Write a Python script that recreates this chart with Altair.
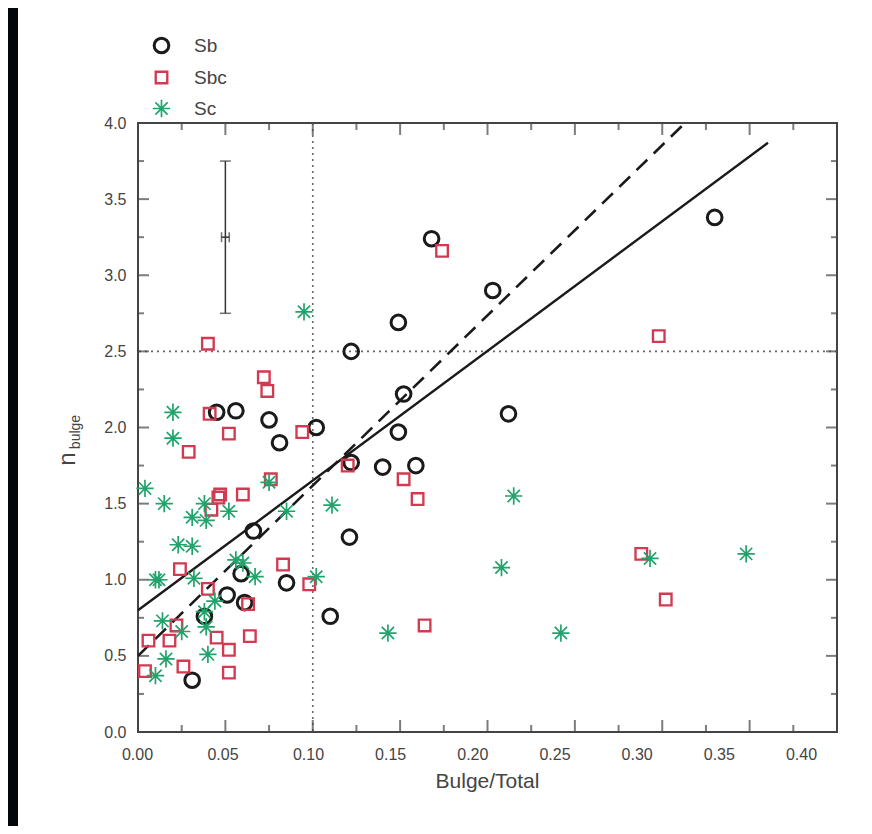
import altair as alt
import pandas as pd

# ---------------- data ----------------
sb_x = [0.330, 0.168, 0.203, 0.149, 0.122, 0.152, 0.212, 0.045, 0.056, 0.075,
        0.102, 0.081, 0.149, 0.122, 0.140, 0.159, 0.121, 0.066, 0.059, 0.085,
        0.051, 0.061, 0.110, 0.038, 0.031]
sb_y = [3.38, 3.24, 2.90, 2.69, 2.50, 2.22, 2.09, 2.10, 2.11, 2.05,
        2.00, 1.90, 1.97, 1.77, 1.74, 1.75, 1.28, 1.32, 1.04, 0.98,
        0.90, 0.85, 0.76, 0.76, 0.34]

sbc_x = [0.174, 0.298, 0.040, 0.072, 0.074, 0.041, 0.094, 0.052, 0.029, 0.120,
         0.076, 0.152, 0.046, 0.047, 0.060, 0.042, 0.160, 0.288, 0.083, 0.024,
         0.098, 0.040, 0.063, 0.302, 0.164, 0.022, 0.045, 0.064, 0.006, 0.018,
         0.052, 0.026, 0.004, 0.052]
sbc_y = [3.16, 2.60, 2.55, 2.33, 2.24, 2.09, 1.97, 1.96, 1.84, 1.75,
         1.66, 1.66, 1.54, 1.56, 1.56, 1.46, 1.53, 1.17, 1.10, 1.07,
         0.97, 0.94, 0.84, 0.87, 0.70, 0.70, 0.62, 0.63, 0.60, 0.60,
         0.54, 0.43, 0.40, 0.39]

sc_x = [0.095, 0.020, 0.020, 0.004, 0.075, 0.015, 0.038, 0.111, 0.215, 0.052,
        0.085, 0.031, 0.039, 0.023, 0.031, 0.056, 0.060, 0.010, 0.012, 0.032,
        0.067, 0.102, 0.208, 0.293, 0.348, 0.044, 0.014, 0.025, 0.039, 0.143,
        0.242, 0.016, 0.040, 0.010, 0.038]
sc_y = [2.76, 2.10, 1.93, 1.60, 1.64, 1.50, 1.50, 1.49, 1.55, 1.45,
        1.45, 1.41, 1.39, 1.23, 1.22, 1.13, 1.11, 1.00, 1.00, 1.01,
        1.02, 1.02, 1.08, 1.14, 1.17, 0.86, 0.73, 0.66, 0.69, 0.65,
        0.65, 0.48, 0.51, 0.37, 0.79]

types = ["Sb", "Sbc", "Sc"]

# fitted relations (end points)
solid_x = [0.0, 0.3605]
solid_y = [0.80, 3.87]
dash_x = [0.0, 0.313]
dash_y = [0.50, 4.00]

# representative error bar
err_x = [0.05]
err_y = [3.25]
err_ylo = [2.75]
err_yhi = [3.75]
err_xlo = [0.0478]
err_xhi = [0.0522]

# reference lines
vline_x = [0.10]
hline_y = [2.5]

x_major = [0.00, 0.05, 0.10, 0.15, 0.20, 0.25, 0.30, 0.35, 0.40]
x_minor = [0.025, 0.075, 0.125, 0.175, 0.225, 0.275, 0.325, 0.375]
y_major = [0.0, 0.5, 1.0, 1.5, 2.0, 2.5, 3.0, 3.5, 4.0]
y_minor = [0.25, 0.75, 1.25, 1.75, 2.25, 2.75, 3.25, 3.75]

# ---------------- build tables ----------------
pts = pd.concat([
    pd.DataFrame({"bt": sb_x, "n": sb_y, "type": "Sb"}),
    pd.DataFrame({"bt": sbc_x, "n": sbc_y, "type": "Sbc"}),
    pd.DataFrame({"bt": sc_x, "n": sc_y, "type": "Sc"}),
], ignore_index=True)

W, H = 699, 609
XD = [0, 0.40]
YD = [0, 4.0]
AX = "#444444"
FONT = "Liberation Sans"

xs = alt.Scale(domain=XD, nice=False, zero=False)
ys = alt.Scale(domain=YD, nice=False, zero=False)

yaxis = alt.Axis(values=y_major, format=".1f", ticks=False, domain=False, grid=False,
                 labelFlush=False, labelFontSize=16, labelColor=AX, labelPadding=12,
                 labelFont=FONT, title=None)

base_one = alt.Chart(pd.DataFrame({"a": [0]}))

# left black band of the page
band = base_one.mark_rect(color="#03060b").encode(
    x=alt.value(-130), x2=alt.value(-120), y=alt.value(-115), y2=alt.value(703))

# x tick labels: in the source figure the printed labels drift left of the
# tick marks towards the right end, so they get their own (piecewise) scale
xlabel_scale = alt.Scale(domain=[0.0, 0.10, 0.40], range=[-1, 170, 663], nice=False, zero=False)
xlabels = alt.Chart(pd.DataFrame({"v": x_major})).mark_tick(opacity=0).encode(
    x=alt.X("v:Q", scale=xlabel_scale,
            axis=alt.Axis(values=x_major, format=".2f", ticks=False, domain=False, grid=False,
                          orient="bottom", labelFlush=False, labelFontSize=16, labelColor=AX,
                          labelPadding=14, labelFont=FONT, title="Bulge/Total",
                          titleFontSize=21, titleFontWeight="normal", titleColor=AX,
                          titlePadding=8, titleFont=FONT, titleX=349)))

# axis ticks (inward) on the four sides
def xticks(vals, size, at, off):
    return alt.Chart(pd.DataFrame({"v": vals})).mark_tick(
        orient="vertical", size=size, thickness=2, color=AX, yOffset=off
    ).encode(x=alt.X("v:Q", scale=xs, axis=None), y=alt.datum(at, scale=ys, axis=yaxis))

def yticks(vals, size, at, off):
    return alt.Chart(pd.DataFrame({"v": vals})).mark_tick(
        orient="horizontal", size=size, thickness=2, color=AX, xOffset=off
    ).encode(y=alt.Y("v:Q", scale=ys, axis=yaxis), x=alt.datum(at, scale=xs, axis=None))

ticks = [
    xticks(x_major, 12, 0, -6), xticks(x_minor, 7, 0, -3.5),
    xticks(x_major, 12, 4.0, 6), xticks(x_minor, 7, 4.0, 3.5),
    yticks(y_major, 11, 0, 5.5), yticks(y_minor, 6, 0, 3),
    yticks(y_major, 11, 0.40, -5.5), yticks(y_minor, 6, 0.40, -3),
]

vline = alt.Chart(pd.DataFrame({"x": vline_x})).mark_rule(
    color="#666666", strokeDash=[2, 4], strokeWidth=1.6
).encode(x=alt.X("x:Q", scale=xs, axis=None))
hline = alt.Chart(pd.DataFrame({"y": hline_y})).mark_rule(
    color="#666666", strokeDash=[2, 4], strokeWidth=1.6
).encode(y=alt.Y("y:Q", scale=ys, axis=yaxis))

solid = alt.Chart(pd.DataFrame({"x": solid_x, "y": solid_y})).mark_line(
    color="#1a1a1a", strokeWidth=2.4
).encode(x=alt.X("x:Q", scale=xs, axis=None), y=alt.Y("y:Q", scale=ys, axis=yaxis))
dashed = alt.Chart(pd.DataFrame({"x": dash_x, "y": dash_y})).mark_line(
    color="#1a1a1a", strokeWidth=2.6, strokeDash=[15, 9]
).encode(x=alt.X("x:Q", scale=xs, axis=None), y=alt.Y("y:Q", scale=ys, axis=yaxis))

err_df = pd.DataFrame({"x": err_x, "y": err_y, "ylo": err_ylo, "yhi": err_yhi,
                       "xlo": err_xlo, "xhi": err_xhi})
eb = alt.Chart(err_df)
err_v = eb.mark_rule(color="#333333", strokeWidth=1.5).encode(
    x=alt.X("x:Q", scale=xs, axis=None), y=alt.Y("ylo:Q", scale=ys, axis=yaxis), y2="yhi:Q")
err_cap_lo = eb.mark_tick(orient="horizontal", size=11, thickness=1.5, color="#333333").encode(
    x=alt.X("x:Q", scale=xs, axis=None), y=alt.Y("ylo:Q", scale=ys, axis=yaxis))
err_cap_hi = eb.mark_tick(orient="horizontal", size=11, thickness=1.5, color="#333333").encode(
    x=alt.X("x:Q", scale=xs, axis=None), y=alt.Y("yhi:Q", scale=ys, axis=yaxis))
err_h = eb.mark_rule(color="#333333", strokeWidth=1.5).encode(
    x=alt.X("xlo:Q", scale=xs, axis=None), x2="xhi:Q", y=alt.Y("y:Q", scale=ys, axis=yaxis))
err_cap_l = eb.mark_tick(orient="vertical", size=10, thickness=1.5, color="#333333").encode(
    x=alt.X("xlo:Q", scale=xs, axis=None), y=alt.Y("y:Q", scale=ys, axis=yaxis))
err_cap_r = eb.mark_tick(orient="vertical", size=10, thickness=1.5, color="#333333").encode(
    x=alt.X("xhi:Q", scale=xs, axis=None), y=alt.Y("y:Q", scale=ys, axis=yaxis))

STAR = "M0,-2.4L0,2.4M-2.4,0L2.4,0M-1.7,-1.7L1.7,1.7M-1.7,1.7L1.7,-1.7"

points = alt.Chart(pts).mark_point(filled=False, opacity=1).encode(
    x=alt.X("bt:Q", scale=xs, axis=None),
    y=alt.Y("n:Q", scale=ys, axis=yaxis),
    color=alt.Color("type:N", scale=alt.Scale(domain=types,
                    range=["#1a1a1a", "#d23a52", "#22a36c"]),
                    legend=alt.Legend(orient="none", legendX=14, legendY=-87, title=None,
                                      labelFontSize=19, labelColor=AX, labelFont=FONT,
                                      symbolSize=70, symbolStrokeWidth=3.2,
                                      rowPadding=8, labelOffset=23, padding=0)),
    shape=alt.Shape("type:N", scale=alt.Scale(domain=types,
                    range=["circle", "square", STAR])),
    size=alt.Size("type:N", scale=alt.Scale(domain=types, range=[215, 52, 72]), legend=None),
    strokeWidth=alt.StrokeWidth("type:N", scale=alt.Scale(domain=types, range=[3.0, 1.7, 1.3]),
                                legend=None),
)

ytitle_n = base_one.mark_text(text="n", fontSize=24, angle=270, color=AX, font=FONT).encode(
    x=alt.value(-70), y=alt.value(336))
ytitle_sub = base_one.mark_text(text="bulge", fontSize=14, angle=270, color=AX, font=FONT).encode(
    x=alt.value(-62), y=alt.value(309))

chart = alt.layer(
    band, xlabels, vline, hline, *ticks, solid, dashed,
    err_v, err_cap_lo, err_cap_hi, err_h, err_cap_l, err_cap_r,
    points, ytitle_n, ytitle_sub,
).resolve_scale(x="independent").properties(
    width=W, height=H,
    autosize=alt.AutoSizeParams(type="none"),
    padding={"left": 130, "top": 115, "right": 27, "bottom": 94},
    background="white",
).configure_view(stroke=AX, strokeWidth=2)

chart.save("out.html", embed_options={"renderer": "svg", "actions": False})
